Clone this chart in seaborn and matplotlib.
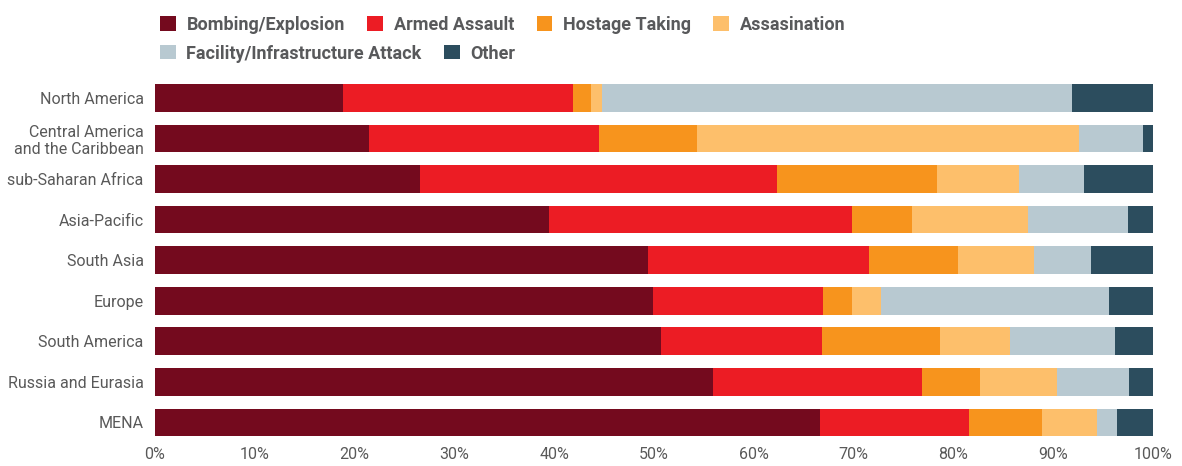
import pandas as pd
import seaborn as sns
import matplotlib.pyplot as plt
from matplotlib.patches import Patch

# shares of attack types per region (percent)
regions = ["North America", "Central America\nand the Caribbean", "sub-Saharan Africa",
           "Asia-Pacific", "South Asia", "Europe", "South America",
           "Russia and Eurasia", "MENA"]
bombing = [18.8, 21.5, 26.6, 39.5, 49.4, 49.9, 50.7, 55.9, 66.6]
armed = [23.1, 23.0, 35.7, 30.3, 22.1, 17.0, 16.1, 21.0, 15.0]
hostage = [1.8, 9.8, 16.1, 6.1, 9.0, 2.9, 11.9, 5.8, 7.3]
assassination = [1.1, 38.3, 8.2, 11.6, 7.6, 2.9, 7.0, 7.7, 5.5]
facility = [47.1, 6.4, 6.5, 10.0, 5.7, 22.9, 10.5, 7.2, 2.0]
other = [8.1, 1.0, 6.9, 2.5, 6.2, 4.4, 3.8, 2.4, 3.6]

categories = ["Bombing/Explosion", "Armed Assault", "Hostage Taking", "Assasination",
              "Facility/Infrastructure Attack", "Other"]
colors = ["#740a1e", "#ec1c24", "#f7941d", "#fdbf6b", "#b8c9d1", "#2c4d5e"]

df = pd.DataFrame({"Region": regions, categories[0]: bombing, categories[1]: armed,
                   categories[2]: hostage, categories[3]: assassination,
                   categories[4]: facility, categories[5]: other})
cum = df[categories].cumsum(axis=1)
cum = cum.div(cum[categories[-1]], axis=0) * 100

sns.set_style("white")
plt.rcParams['font.family'] = ['Roboto', 'DejaVu Sans']

fig, ax = plt.subplots(figsize=(11.82, 4.66), dpi=100)
fig.subplots_adjust(left=0.131, right=0.9755, top=0.8335, bottom=0.05)

# stacked bars: draw cumulative totals from the back to the front
for cat, col in reversed(list(zip(categories, colors))):
    sns.barplot(x=cum[cat], y=df["Region"], color=col, width=0.68,
                linewidth=0, saturation=1, ax=ax)

ax.set_xlim(0, 100)
ax.set_xticks(range(0, 101, 10))
ax.set_xticklabels([f"{t}%" for t in range(0, 101, 10)])
ax.set_xlabel("")
ax.set_ylabel("")
ax.tick_params(axis="both", length=0, labelsize=11.5, labelcolor="#595959")
ax.tick_params(axis="y", pad=8)
ax.tick_params(axis="x", pad=3)
sns.despine(ax=ax, left=True, bottom=True)

handles = [Patch(facecolor=c, edgecolor="none") for c in colors]
leg_kw = dict(frameon=False, handlelength=0.85, handleheight=0.85, handletextpad=0.6,
              columnspacing=1.25, borderaxespad=0,
              prop={"family": "Roboto", "weight": "bold", "size": 13})
leg1 = fig.legend(handles[:4], categories[:4], ncol=4, loc="upper left",
                  bbox_to_anchor=(0.1295, 0.982), **leg_kw)
leg2 = fig.legend(handles[4:], categories[4:], ncol=2, loc="upper left",
                  bbox_to_anchor=(0.1295, 0.920), **leg_kw)
for leg in (leg1, leg2):
    for t in leg.get_texts():
        t.set_color("#58595b")

plt.savefig("out.png", dpi=100)
plt.close(fig)
